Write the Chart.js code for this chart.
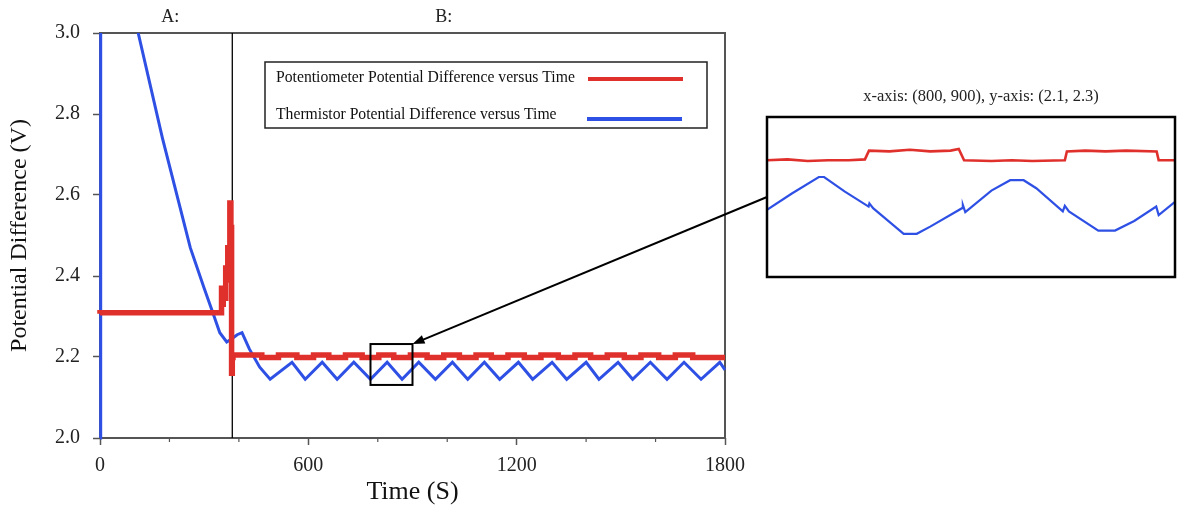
<!DOCTYPE html>
<html lang="en">
<head>
<meta charset="UTF-8">
<title>potential difference versus time</title>
<style>
  body { margin: 0; background: #fff; }
  #wrap { position: relative; width: 1178px; height: 510px; }
  #main { position: absolute; left: 0; top: 0; width: 1178px; height: 510px; }
  #inset { position: absolute; left: 760px; top: 84px; width: 418px; height: 198px; }
</style>
</head>
<body>
<div id="wrap">
  <div id="main"><canvas id="mainChart"></canvas></div>
  <div id="inset"><canvas id="insetChart"></canvas></div>
</div>

<script src="https://cdn.jsdelivr.net/npm/chart.js@4.4.1/dist/chart.umd.min.js"></script>
<script>
// ---- data ----
var xTicks = [0, 600, 1200, 1800];
var yTicks = [2.0, 2.2, 2.4, 2.6, 2.8, 3.0];

// thermistor (blue), seconds / volts
var thermTime = [0, 2, 110, 180, 260, 300, 326, 345, 365, 380, 395, 409, 430, 460, 490,
  553, 591, 640, 683, 731, 779, 827, 870, 918, 966, 1015, 1059, 1107, 1151, 1205, 1246,
  1302, 1344, 1400, 1437, 1492, 1534, 1585, 1633, 1682, 1731, 1785, 1800];
var thermVolt = [2.0, 3.42, 3.0, 2.74, 2.47, 2.37, 2.307, 2.26, 2.237, 2.245, 2.255, 2.26, 2.22, 2.175, 2.145,
  2.187, 2.145, 2.187, 2.145, 2.187, 2.145, 2.187, 2.145, 2.187, 2.145, 2.187, 2.145, 2.187, 2.145, 2.187, 2.145,
  2.187, 2.145, 2.187, 2.145, 2.187, 2.145, 2.187, 2.145, 2.187, 2.145, 2.187, 2.168];

// potentiometer (red), value holds until next time (stepped)
var potTime = [0, 350, 352, 355, 358, 362, 365, 368, 371, 374, 377, 379, 381, 383,
  466, 514, 567, 615, 659, 707, 755, 803, 846, 894, 942, 990, 1035, 1083, 1127, 1175,
  1222, 1270, 1320, 1368, 1413, 1461, 1510, 1558, 1609, 1657, 1707, 1755, 1800];
var potVolt = [2.307, 2.309, 2.37, 2.33, 2.37, 2.345, 2.42, 2.39, 2.47, 2.44, 2.58, 2.52, 2.16, 2.199,
  2.205, 2.199, 2.205, 2.199, 2.205, 2.199, 2.205, 2.199, 2.205, 2.199, 2.205, 2.199, 2.205, 2.199, 2.205, 2.199,
  2.205, 2.199, 2.205, 2.199, 2.205, 2.199, 2.205, 2.199, 2.205, 2.199, 2.205, 2.199, 2.199];

// zoomed window 800-900 s
var insetPotTime = [800, 805, 810, 815, 820, 824, 825, 830, 835, 840, 845, 847, 848.3, 855, 860, 865, 873,
  873.5, 878, 883, 888, 895.5, 896, 900];
var insetPotVolt = [2.246, 2.247, 2.245, 2.246, 2.246, 2.247, 2.258, 2.257, 2.259, 2.257, 2.258, 2.26, 2.246,
  2.245, 2.246, 2.245, 2.246, 2.257, 2.258, 2.257, 2.258, 2.257, 2.246, 2.246];
var insetThermTime = [800, 806, 812.7, 814, 819, 824.9, 825.1, 826, 833.5, 836.7, 840, 847.8, 848, 848.6,
  855, 859.6, 862.9, 866, 872.5, 873, 874, 881.2, 885.3, 890, 895.4, 896, 900];
var insetThermVolt = [2.184, 2.204, 2.225, 2.225, 2.207, 2.188, 2.192, 2.186, 2.154, 2.154, 2.163, 2.186, 2.19,
  2.181, 2.208, 2.221, 2.221, 2.211, 2.182, 2.189, 2.182, 2.158, 2.158, 2.17, 2.188, 2.1775, 2.194];

var splitTime = 381;
var phaseLabels = ['A:', 'B:'];
var phaseLabelTimes = [202, 990];
var zoomTimes = [779, 900];
var zoomVolts = [2.131, 2.232];
var seriesNames = ['Potentiometer Potential Difference versus Time', 'Thermistor Potential Difference versus Time'];
var insetTitle = 'x-axis: (800, 900), y-axis: (2.1, 2.3)';

var red = '#e0302c';
var blue = '#2f50e4';
var serif = "'Liberation Serif', 'Times New Roman', serif";

function pts(xs, ys) {
  return xs.map(function (t, i) { return { x: t, y: ys[i] }; });
}

// inset box position on the page (left-centre is the arrow start)
var insetBox = { left: 767, top: 117, right: 1175, bottom: 277 };

var decorations = {
  id: 'decorations',
  beforeDatasetsDraw: function (chart) {
    var ctx = chart.ctx, a = chart.chartArea, x = chart.scales.x;
    ctx.save();
    ctx.strokeStyle = '#555';
    ctx.lineWidth = 2;
    ctx.strokeRect(a.left, a.top, a.right - a.left, a.bottom - a.top);
    // minor ticks on the time axis
    ctx.lineWidth = 1.2;
    x.ticks.forEach(function (t) {
      if (t.value % 600 !== 0) {
        var px = x.getPixelForValue(t.value);
        ctx.beginPath(); ctx.moveTo(px, a.bottom); ctx.lineTo(px, a.bottom + 4); ctx.stroke();
      }
    });
    var sx = x.getPixelForValue(splitTime);
    ctx.strokeStyle = '#000';
    ctx.lineWidth = 1.3;
    ctx.beginPath(); ctx.moveTo(sx, a.top); ctx.lineTo(sx, a.bottom); ctx.stroke();
    ctx.restore();
  },
  afterDraw: function (chart) {
    var ctx = chart.ctx, a = chart.chartArea, x = chart.scales.x, y = chart.scales.y;
    ctx.save();
    ctx.fillStyle = '#222';
    ctx.font = '18px ' + serif;
    ctx.textAlign = 'center';
    ctx.textBaseline = 'middle';
    phaseLabels.forEach(function (lab, i) {
      ctx.fillText(lab, x.getPixelForValue(phaseLabelTimes[i]), a.top - 16);
    });

    // inset title, centred over the inset box
    ctx.font = '16.5px ' + serif;
    ctx.fillText(insetTitle, (insetBox.left + insetBox.right) / 2 + 10, insetBox.top - 20);

    // zoom rectangle
    var zx0 = x.getPixelForValue(zoomTimes[0]), zx1 = x.getPixelForValue(zoomTimes[1]);
    var zy0 = y.getPixelForValue(zoomVolts[1]), zy1 = y.getPixelForValue(zoomVolts[0]);
    ctx.strokeStyle = '#000';
    ctx.lineWidth = 2;
    ctx.strokeRect(zx0, zy0, zx1 - zx0, zy1 - zy0);

    // arrow from the inset to the rectangle
    var sx = insetBox.left, sy = (insetBox.top + insetBox.bottom) / 2;
    var ex = zx1, ey = zy0;
    var ang = Math.atan2(ey - sy, ex - sx);
    ctx.lineWidth = 2;
    ctx.beginPath(); ctx.moveTo(sx, sy);
    ctx.lineTo(ex - 9 * Math.cos(ang), ey - 9 * Math.sin(ang)); ctx.stroke();
    ctx.fillStyle = '#000';
    ctx.beginPath();
    ctx.moveTo(ex, ey);
    ctx.lineTo(ex - 12 * Math.cos(ang) + 4.5 * Math.sin(ang), ey - 12 * Math.sin(ang) - 4.5 * Math.cos(ang));
    ctx.lineTo(ex - 12 * Math.cos(ang) - 4.5 * Math.sin(ang), ey - 12 * Math.sin(ang) + 4.5 * Math.cos(ang));
    ctx.closePath(); ctx.fill();

    // legend box
    var lx = 265, ly = 62, lw = 442, lh = 66;
    ctx.fillStyle = '#fff';
    ctx.fillRect(lx, ly, lw, lh);
    ctx.strokeStyle = '#222';
    ctx.lineWidth = 1.5;
    ctx.strokeRect(lx, ly, lw, lh);
    ctx.font = '15.7px ' + serif;
    ctx.textAlign = 'left';
    ctx.fillStyle = '#111';
    ctx.fillText(seriesNames[0], lx + 11, ly + 16);
    ctx.fillText(seriesNames[1], lx + 11, ly + 53);
    ctx.lineWidth = 4;
    ctx.strokeStyle = red;
    ctx.beginPath(); ctx.moveTo(588, ly + 17); ctx.lineTo(683, ly + 17); ctx.stroke();
    ctx.strokeStyle = blue;
    ctx.beginPath(); ctx.moveTo(587, ly + 57); ctx.lineTo(682, ly + 57); ctx.stroke();
    ctx.restore();
  }
};

Chart.defaults.color = '#222';
Chart.defaults.font.family = serif;

new Chart(document.getElementById('mainChart'), {
  type: 'line',
  data: {
    datasets: [{
      label: seriesNames[0],
      data: pts(potTime, potVolt),
      borderColor: red,
      borderWidth: 5.5,
      stepped: 'after',
      pointRadius: 0,
      clip: { left: 3, top: 0, right: 2, bottom: 3 }
    }, {
      label: seriesNames[1],
      data: pts(thermTime, thermVolt),
      borderColor: blue,
      borderWidth: 3,
      tension: 0,
      pointRadius: 0,
      clip: { left: 3, top: 0, right: 2, bottom: 3 }
    }]
  },
  options: {
    responsive: true,
    maintainAspectRatio: false,
    animation: false,
    layout: { padding: { top: 33, right: 453, left: 0, bottom: 0 } },
    plugins: { legend: { display: false }, tooltip: { enabled: false } },
    scales: {
      x: {
        type: 'linear',
        min: 0, max: 1800,
        afterFit: function (s) { s.height = 72; },
        border: { display: false },
        grid: {
          drawOnChartArea: false, tickLength: 7, tickWidth: 1.5,
          tickColor: function (c) { return c.tick && c.tick.value % 600 === 0 ? '#555' : 'rgba(0,0,0,0)'; }
        },
        ticks: {
          stepSize: 200, autoSkip: false, maxRotation: 0, padding: 9,
          font: { size: 20 }, color: '#222',
          callback: function (v) { return xTicks.indexOf(v) >= 0 ? String(v) : ''; }
        },
        title: { display: true, text: 'Time (S)', font: { size: 26 }, color: '#111', padding: { top: 0, bottom: 2 } }
      },
      y: {
        min: 2.0, max: 3.0,
        afterFit: function (s) { s.width = 100; },
        border: { display: false },
        grid: { drawOnChartArea: false, tickLength: 7, tickWidth: 1.5, tickColor: '#555' },
        ticks: {
          stepSize: 0.2, padding: 13,
          font: { size: 20 }, color: '#222',
          callback: function (v) {
            var hit = yTicks.find(function (t) { return Math.abs(t - v) < 1e-6; });
            return hit === undefined ? '' : hit.toFixed(1);
          }
        },
        title: { display: true, text: 'Potential Difference (V)', font: { size: 24 }, color: '#111', padding: { top: 5, bottom: 0 } }
      }
    }
  },
  plugins: [decorations]
});

var insetFrame = {
  id: 'insetFrame',
  afterDraw: function (chart) {
    var ctx = chart.ctx, a = chart.chartArea;
    ctx.save();
    ctx.strokeStyle = '#000';
    ctx.lineWidth = 2.5;
    ctx.strokeRect(a.left, a.top, a.right - a.left, a.bottom - a.top);
    ctx.restore();
  }
};

new Chart(document.getElementById('insetChart'), {
  type: 'line',
  data: {
    datasets: [{
      data: pts(insetPotTime, insetPotVolt),
      borderColor: red, borderWidth: 2.6, pointRadius: 0
    }, {
      data: pts(insetThermTime, insetThermVolt),
      borderColor: blue, borderWidth: 2.2, pointRadius: 0
    }]
  },
  options: {
    responsive: true,
    maintainAspectRatio: false,
    animation: false,
    layout: { padding: { left: 7, right: 3, top: 33, bottom: 5 } },
    plugins: { legend: { display: false }, tooltip: { enabled: false } },
    scales: {
      x: { type: 'linear', min: 800, max: 900, display: false },
      y: { min: 2.1, max: 2.3, display: false }
    }
  },
  plugins: [insetFrame]
});
</script>
</body>
</html>
